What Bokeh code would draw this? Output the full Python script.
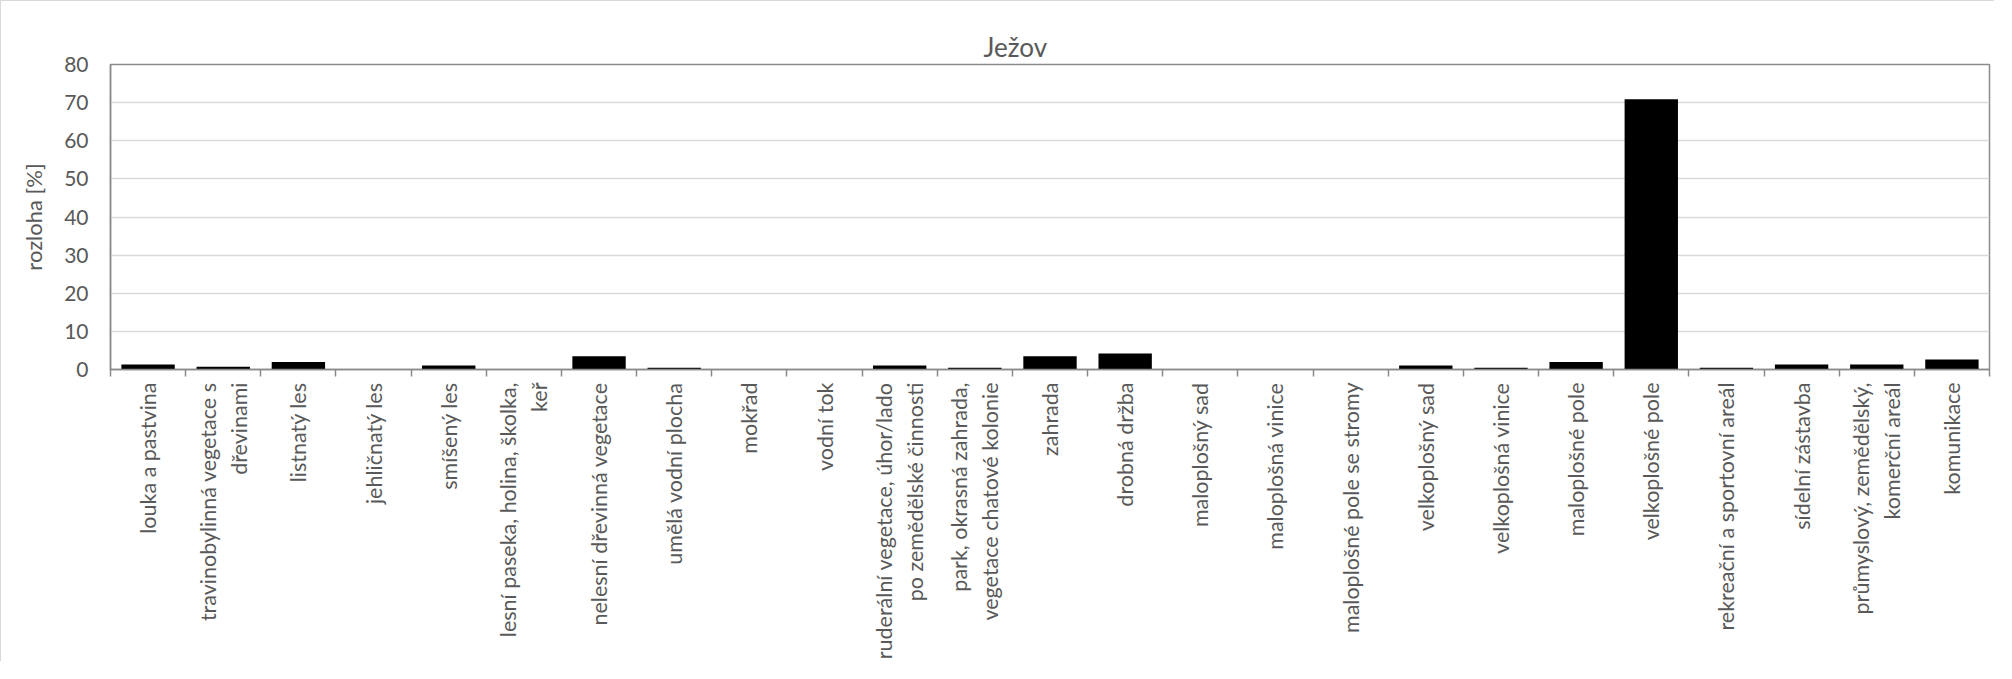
from math import pi
from bokeh.plotting import figure
from bokeh.models import (Range1d, LinearAxis, FixedTicker, ColumnDataSource)
from bokeh.embed import file_html
from bokeh.resources import INLINE

# ---- data ----
categories = [
    "louka a pastvina",
    "travinobylinná vegetace s\ndřevinami",
    "listnatý les",
    "jehličnatý les",
    "smíšený les",
    "lesní paseka, holina, školka,\nkeř",
    "nelesní dřevinná vegetace",
    "umělá vodní plocha",
    "mokřad",
    "vodní tok",
    "ruderální vegetace, úhor/lado\npo zemědělské činnosti",
    "park, okrasná zahrada,\nvegetace chatové kolonie",
    "zahrada",
    "drobná držba",
    "maloplošný sad",
    "maloplošná vinice",
    "maloplošné pole se stromy",
    "velkoplošný sad",
    "velkoplošná vinice",
    "maloplošné pole",
    "velkoplošné pole",
    "rekreační a sportovní areál",
    "sídelní zástavba",
    "průmyslový, zemědělský,\nkomerční areál",
    "komunikace",
]
values = [1.3, 0.7, 2.0, 0.0, 1.05, 0.0, 3.5, 0.45, 0.0, 0.0, 1.05, 0.45,
          3.5, 4.2, 0.0, 0.0, 0.0, 1.05, 0.45, 2.0, 70.9, 0.45, 1.3, 1.3, 2.6]
y_ticks = [0, 10, 20, 30, 40, 50, 60, 70, 80]
title_text = "Ježov"
y_label = "rozloha [%]"

FONT = "Lato"
TEXT = "#595959"
AXIS = "#8a8a8a"
GRID = "#d9d9d9"

n = len(categories)
centers = [i + 0.5 for i in range(n)]      # category slot centres
bounds = list(range(n + 1))                # category slot boundaries

source = ColumnDataSource(data=dict(x=centers, val=values))

p = figure(
    x_range=Range1d(0, n),
    y_range=Range1d(y_ticks[0], y_ticks[-1]),
    width=1994, height=661,
    output_backend="svg", toolbar_location=None,
    x_axis_location=None,
    min_border_left=109, min_border_right=6, min_border_top=63, min_border_bottom=0,
    title=title_text,
)
p.styles = {"border-top": "1px solid #d9d9d9", "border-left": "1px solid #d9d9d9"}

p.vbar(x="x", top="val", width=0.71, source=source,
       fill_color="black", line_color=None)

# title
p.title.text_font = FONT
p.title.text_font_size = "26px"
p.title.text_font_style = "normal"
p.title.text_color = TEXT
p.title.align = "left"
p.title.offset = 873
p.title.standoff = 4

# frame / grid
p.outline_line_color = AXIS
p.outline_line_width = 1.5
p.xgrid.visible = False
p.ygrid.grid_line_color = GRID
p.ygrid.grid_line_width = 1.5
p.background_fill_color = "white"
p.border_fill_color = "white"

# y axis
ya = p.yaxis[0]
ya.ticker = FixedTicker(ticks=y_ticks)
ya.axis_label = y_label
ya.axis_label_text_font = FONT
ya.axis_label_text_font_size = "22px"
ya.axis_label_text_font_style = "normal"
ya.axis_label_text_color = TEXT
ya.axis_label_standoff = 14
ya.major_label_text_font = FONT
ya.major_label_text_font_size = "21px"
ya.major_label_text_color = TEXT
ya.major_label_standoff = 22
ya.major_tick_out = 0
ya.major_tick_in = 0
ya.minor_tick_out = 0
ya.minor_tick_in = 0
ya.axis_line_color = AXIS
ya.axis_line_width = 1.5

# x axis: labels at slot centres, tick marks at slot boundaries
xa = LinearAxis(
    ticker=FixedTicker(ticks=centers, minor_ticks=bounds),
    major_label_overrides={c: lab for c, lab in zip(centers, categories)},
    axis_line_color=AXIS, axis_line_width=1.5,
    major_tick_line_color=None,
    major_tick_in=0, major_tick_out=7,
    minor_tick_line_color=AXIS, minor_tick_line_width=1.5,
    minor_tick_in=0, minor_tick_out=7,
    major_label_orientation=pi / 2,
    major_label_standoff=6,
    major_label_text_font=FONT,
    major_label_text_font_size="21.5px",
    major_label_text_color=TEXT,
)
p.add_layout(xa, "below")

open("out.html", "w").write(file_html(p, INLINE))
